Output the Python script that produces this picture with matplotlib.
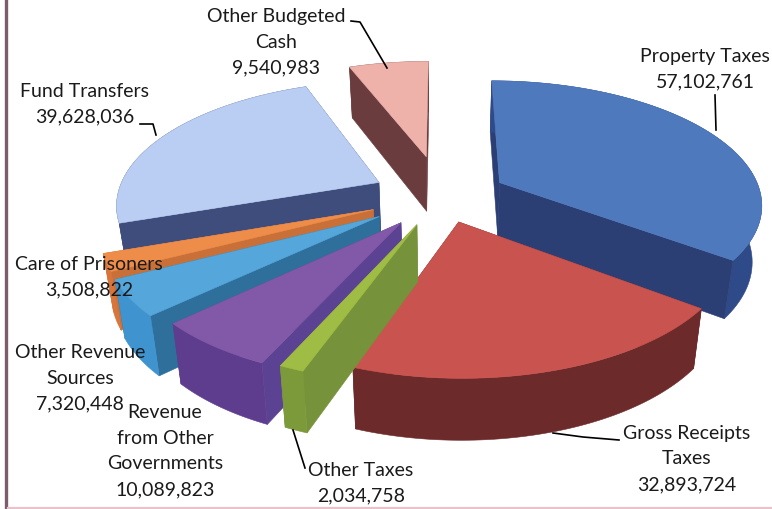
"""
Revenue sources drawn as an exploded 3D pie.
"""

import numpy as np
import matplotlib
matplotlib.use('Agg')  # Headless mode
import matplotlib.pyplot as plt
from matplotlib.patches import Polygon

plt.rcParams['font.family'] = ['Lato', 'DejaVu Sans']

names = ['Property Taxes', 'Gross Receipts\nTaxes', 'Other Taxes', 'Revenue\nfrom Other\nGovernments',
         'Other Revenue\nSources', 'Care of Prisoners', 'Fund Transfers', 'Other Budgeted\nCash']
values = [57102761, 32893724, 2034758, 10089823, 7320448, 3508822, 39628036, 9540983]

# Slice styling
explode = [0.25, 0.215, 0.245, 0.26, 0.285, 0.28, 0.27, 0.345]
top_colors = ['#4f79bd', '#c9534f', '#9fbc44', '#8159a8', '#55a6da', '#ee8c4a', '#b9cef2', '#eeb2aa']
side_colors = ['#2b3f74', '#6b2c2c', '#76923a', '#5c4292', '#2f6f9c', '#c96f38', '#3f4d7c', '#6b3c3e']
outer_colors = ['#2f4a88', '#6d2a2a', '#7d9a3b', '#5e3d8e', '#3f93cf', '#d9743a', '#3f4d7c', '#6b3c3e']
draw_order = [7, 6, 5, 4, 3, 0, 1, 2]

# Projection of the pie plane
CX, CY = 442, 196
A, B, K = 262, 122, 0.16
DEPTH = 56

# Label centres and leader lines, in figure pixels
label_pos = [(705, 69), (687, 459), (361, 483), (165, 451), (80, 378), (89, 277), (85, 104), (276, 42)]
leaders = [
    [(715, 95), (716, 130)],
    [(553, 433), (583, 437), (619, 440)],
    [(293, 430), (305, 468)],
    None,
    None,
    None,
    [(140, 124), (153, 124), (156, 135)],
    [(351, 21), (360, 22), (387, 68)],
]


def project(u, v, z=0.0):
    den = 1 + K * np.asarray(v)
    x = CX + A * np.asarray(u) / den * (1 - 0.03 * z)
    # Wall height changes more slowly with distance than the plane does
    y = CY - B * np.asarray(v) / den + DEPTH * z / (1 + 0.5 * K * np.asarray(v))
    return np.column_stack([x, y])


def draw_slice(ax, start, end, offset, top, side, outer):
    mid = np.radians((start + end) / 2)
    ou, ov = offset * np.sin(mid), offset * np.cos(mid)
    theta = np.radians(np.linspace(start, end, 80))
    arc_u = ou + np.sin(theta)
    arc_v = ov + np.cos(theta)

    def radial(i):
        us = np.array([ou, arc_u[i]])
        vs = np.array([ov, arc_v[i]])
        pts = np.vstack([project(us, vs), project(us[::-1], vs[::-1], 1.0)])
        return vs.mean(), pts, side

    arc_pts = np.vstack([project(arc_u, arc_v), project(arc_u[::-1], arc_v[::-1], 1.0)])
    faces = [radial(0), radial(-1), (arc_v.mean(), arc_pts, outer)]

    # Far faces first so the near ones cover them
    for _, pts, color in sorted(faces, key=lambda f: -f[0]):
        ax.add_patch(Polygon(pts, closed=True, facecolor=color, edgecolor=color, lw=0.4))

    top_pts = np.vstack([project(ou, ov), project(arc_u, arc_v)])
    ax.add_patch(Polygon(top_pts, closed=True, facecolor=top, edgecolor=top, lw=0.4))


fig = plt.figure(figsize=(7.72, 5.09), dpi=100)
ax = fig.add_axes([0, 0, 1, 1])
ax.set_xlim(0, 772)
ax.set_ylim(509, 0)
ax.axis('off')

# Page rule on the left and along the bottom
ax.plot([6, 6], [0, 509], color='#7d5c6c', lw=2.4)
ax.plot([8, 772], [507.5, 507.5], color='#e8c3cc', lw=1.6)

angles = np.concatenate([[0], np.cumsum(values) / np.sum(values) * 360])

for i in draw_order:
    draw_slice(ax, angles[i], angles[i + 1], explode[i], top_colors[i], side_colors[i], outer_colors[i])

for name, value, pos, line in zip(names, values, label_pos, leaders):
    ax.text(pos[0], pos[1], f'{name}\n{value:,}', ha='center', va='center',
            fontsize=14, linespacing=1.64, color='#1a1a1a', zorder=5)
    if line:
        xs, ys = zip(*line)
        ax.plot(xs, ys, color='black', lw=1.2, zorder=4)

plt.savefig('out.png', dpi=100)
plt.close()
